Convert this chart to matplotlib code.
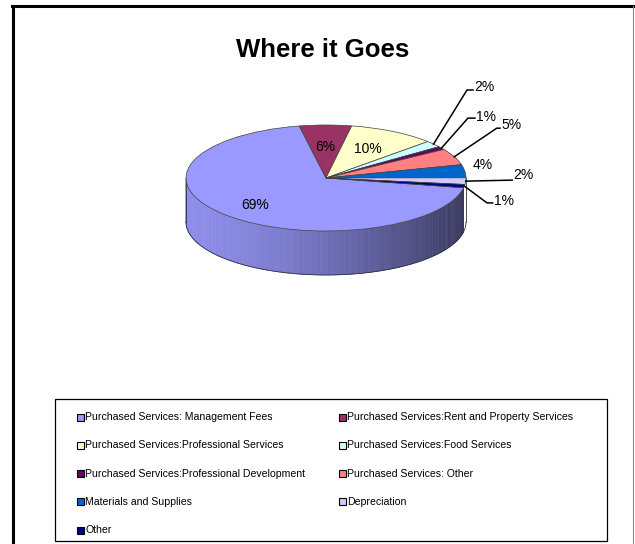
import numpy as np
import matplotlib
matplotlib.use("Agg")
import matplotlib.pyplot as plt
from matplotlib.patches import Rectangle, Polygon
from matplotlib.lines import Line2D

# data
categories = [
    "Purchased Services: Management Fees",
    "Purchased Services:Rent and Property Services",
    "Purchased Services:Professional Services",
    "Purchased Services:Food Services",
    "Purchased Services:Professional Development",
    "Purchased Services: Other",
    "Materials and Supplies",
    "Depreciation",
    "Other",
]
percents = [69, 6, 10, 2, 1, 5, 4, 2, 1]
colors = ["#9999FF", "#993366", "#FFFFCC", "#CCFFFF", "#660066",
          "#FF8080", "#0066CC", "#CCCCFF", "#000080"]

font = ["Liberation Sans", "DejaVu Sans"]

W, H = 635, 544
dpi = 100
fig = plt.figure(figsize=(W / dpi, H / dpi), dpi=dpi)

# background axes in pixel coordinates
bg = fig.add_axes([0, 0, 1, 1])
bg.set_xlim(0, W)
bg.set_ylim(H, 0)
bg.axis("off")

# outer frame
bg.add_line(Line2D([13, 13], [6, H], color="black", lw=2.2))
bg.add_line(Line2D([12, W], [6, 6], color="black", lw=2.2))
bg.add_line(Line2D([633, 633], [6, H], color="#888888", lw=0.8))

bg.text(323, 50, "Where it Goes", ha="center", va="center",
        fontsize=18.5, fontweight="bold", family=font)

# legend box, filled row by row
bg.add_patch(Rectangle((55, 399), 552, 142, fill=False, ec="black", lw=0.9))
for i, (name, col) in enumerate(zip(categories, colors)):
    row, c = divmod(i, 2)
    x = 77 if c == 0 else 339
    y = 417 + row * 28.3
    bg.add_patch(Rectangle((x, y - 3.5), 7, 7, fc=col, ec="black", lw=0.8))
    bg.text(x + 8, y, name, ha="left", va="center", fontsize=7.6, family=font)

# pie axes: circle of radius 1 squashed to 140 x 53 px, centre (326,178)
cx, cy, a, b = 326, 178, 140, 53
xl, xr, yb, yt = -1.3, 1.5, -1.95, 1.85
ax = fig.add_axes([(cx + xl * a) / W, 1 - (cy - yb * b) / H,
                   (xr - xl) * a / W, (yt - yb) * b / H])
depth = 44 / b
start = -10.6

total = float(sum(percents))
bounds = []
t0 = start
for v in percents:
    t1 = t0 - 360 * v / total
    bounds.append((t1, t0))
    t0 = t1

# side wall (front half only), shaded darker to the right
for (lo0, hi0), col in zip(bounds, colors):
    base = np.array(matplotlib.colors.to_rgb(col))
    for k in (-360, 0, 360):
        lo = max(lo0 + k, 180)
        hi = min(hi0 + k, 360)
        if hi <= lo:
            continue
        angs = np.linspace(lo, hi, max(2, int(hi - lo) + 2))
        for a1, a2 in zip(angs[:-1], angs[1:]):
            am = np.radians((a1 + a2) / 2)
            t = (np.cos(am) + 1) / 2
            f = 0.92 - 0.55 * t ** 1.46
            c = np.clip(base * f, 0, 1)
            r1, r2 = np.radians(a1), np.radians(a2)
            pts = [(np.cos(r1), np.sin(r1)), (np.cos(r2), np.sin(r2)),
                   (np.cos(r2), np.sin(r2) - depth), (np.cos(r1), np.sin(r1) - depth)]
            ax.add_patch(Polygon(pts, closed=True, fc=c, ec=c, lw=0.4, zorder=1))

# side outline
arc = np.radians(np.linspace(180, 360, 200))
ax.plot(np.cos(arc), np.sin(arc) - depth, color="#303040", lw=0.6, zorder=2)
ax.plot([-1, -1], [0, -depth], color="#303040", lw=0.6, zorder=2)
ax.plot([1, 1], [0, -depth], color="#303040", lw=0.6, zorder=2)

wedges, _ = ax.pie(percents, colors=colors, startangle=start, counterclock=False,
                   radius=1, center=(0, 0),
                   wedgeprops=dict(edgecolor="#404040", linewidth=0.5))
for w in wedges:
    w.set_zorder(3)

ax.set_aspect("auto")
ax.set_xlim(xl, xr)
ax.set_ylim(yb, yt)
ax.axis("off")

# labels: inside at a radius, or with leader line (elbow, text pos)
inside = {0: 0.72, 1: 0.58, 2: 0.62}
leaders = {
    3: ((1.007, 1.66), (1.05, 1.72)),
    4: ((1.014, 1.13), (1.064, 1.15)),
    5: ((1.22, 0.94), (1.243, 1.00)),
    7: ((1.33, -0.04), (1.33, 0.05)),
    8: ((1.15, -0.47), (1.19, -0.43)),
}
lab_kw = dict(fontsize=10, family=font, zorder=5)
for i, (lo, hi) in enumerate(bounds):
    mid = np.radians((lo + hi) / 2)
    txt = "%d%%" % percents[i]
    if i in inside:
        r = inside[i]
        ax.text(r * np.cos(mid), r * np.sin(mid), txt, ha="center", va="center", **lab_kw)
    elif i in leaders:
        (ex, ey), (tx, ty) = leaders[i]
        ax.plot([np.cos(mid), ex, tx], [np.sin(mid), ey, ey], color="black",
                lw=1.1, zorder=4, clip_on=False)
        ax.text(tx + 0.01, ty, txt, ha="left", va="center", **lab_kw)
    else:
        ax.text(1.12 * np.cos(mid) - 0.06, 1.12 * np.sin(mid) + 0.1, txt,
                ha="left", va="center", **lab_kw)

fig.savefig("out.png", dpi=dpi)
